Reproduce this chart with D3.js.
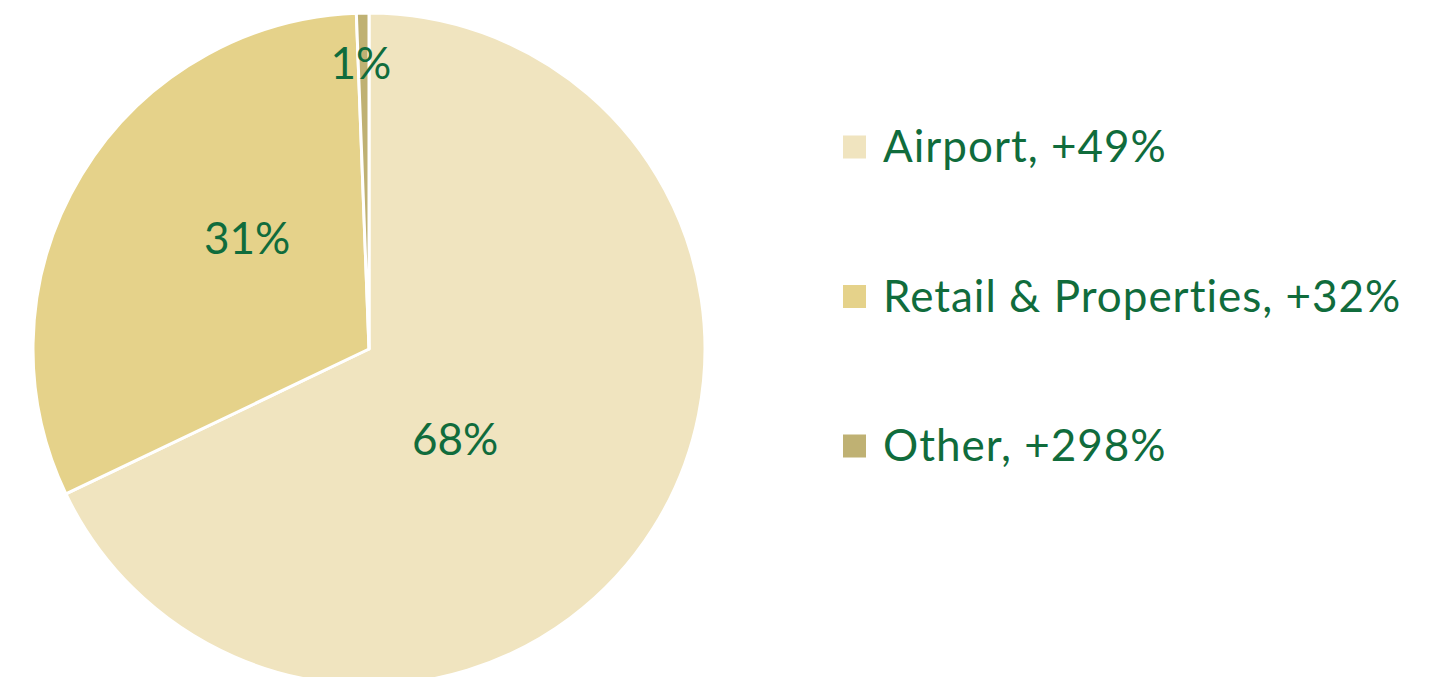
<!DOCTYPE html>
<html>
<head>
<meta charset="utf-8">
<script src="https://cdn.jsdelivr.net/npm/d3@7"></script>
<style>
  body { margin: 0; background: #fff; }
  text { font-family: Lato, "Open Sans", sans-serif; fill: #106c3c; }
</style>
</head>
<body>
<svg id="chart" width="1450" height="677"></svg>
<script>
// segment share of revenue, and growth shown in the legend
const segments = ['Airport', 'Retail & Properties', 'Other']
const shares = [67.9, 31.5, 0.6]
const shareLabels = ['68%', '31%', '1%']
const growth = ['+49%', '+32%', '+298%']
const colors = ['#f0e4bf', '#e5d28a', '#bfb173']

const svg = d3.select('#chart')
const cx = 369, cy = 349, radius = 336
const fontSize = 44

// nudges to match where the labels sit in the original (baseline, relative to centroid)
const labelNudge = [[-56, 16], [22, -8], [-5, -102]]

const pie = d3.pie().sort(null).value(d => d)
const arcs = pie(shares)
const arc = d3.arc().innerRadius(0).outerRadius(radius)
const labelArc = d3.arc().innerRadius(radius / 2).outerRadius(radius / 2)

const g = svg.append('g').attr('transform', `translate(${cx},${cy})`)

g.selectAll('path')
  .data(arcs)
  .enter().append('path')
  .attr('d', arc)
  .attr('fill', (d, i) => colors[i])
  .attr('stroke', '#fff')
  .attr('stroke-width', 3)
  .attr('stroke-linejoin', 'round')

g.selectAll('text.label')
  .data(arcs)
  .enter().append('text')
  .attr('class', 'label')
  .attr('text-anchor', 'middle')
  .attr('font-size', fontSize)
  .attr('x', (d, i) => labelArc.centroid(d)[0] + labelNudge[i][0])
  .attr('y', (d, i) => labelArc.centroid(d)[1] + labelNudge[i][1])
  .text((d, i) => shareLabels[i])

const legendY = d3.scalePoint().domain(segments).range([147, 446])

const legend = svg.append('g')
  .selectAll('g')
  .data(segments)
  .enter().append('g')
  .attr('transform', d => `translate(843,${legendY(d)})`)

legend.append('rect')
  .attr('x', 0).attr('y', -11.5)
  .attr('width', 23).attr('height', 23)
  .attr('fill', (d, i) => colors[i])

legend.append('text')
  .attr('x', 40)
  .attr('y', 15)
  .attr('font-size', fontSize)
  .attr('letter-spacing', 1)
  .text((d, i) => d + ', ' + growth[i])
</script>
</body>
</html>
